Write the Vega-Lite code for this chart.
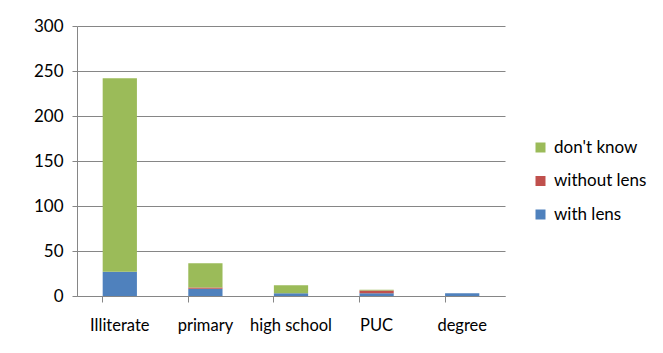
{
  "$schema": "https://vega.github.io/schema/vega-lite/v6.json",
  "autosize": {"type": "none"},
  "width": 428,
  "height": 270,
  "padding": {"left": 77, "top": 26, "right": 158, "bottom": 57},
  "background": "white",
  "data": {
    "values": [
      {"level": "Illiterate", "type": "with lens", "count": 27},
      {"level": "Illiterate", "type": "without lens", "count": 0},
      {"level": "Illiterate", "type": "don't know", "count": 215},
      {"level": "primary", "type": "with lens", "count": 8},
      {"level": "primary", "type": "without lens", "count": 1.5},
      {"level": "primary", "type": "don't know", "count": 27},
      {"level": "high school", "type": "with lens", "count": 3},
      {"level": "high school", "type": "without lens", "count": 0},
      {"level": "high school", "type": "don't know", "count": 9},
      {"level": "PUC", "type": "with lens", "count": 3},
      {"level": "PUC", "type": "without lens", "count": 3},
      {"level": "PUC", "type": "don't know", "count": 1},
      {"level": "degree", "type": "with lens", "count": 3},
      {"level": "degree", "type": "without lens", "count": 0},
      {"level": "degree", "type": "don't know", "count": 0}
    ]
  },
  "transform": [
    {"calculate": "indexof(['with lens', 'without lens', \"don't know\"], datum.type)", "as": "stackOrder"}
  ],
  "mark": {"type": "bar"},
  "encoding": {
    "x": {
      "field": "level",
      "type": "nominal",
      "sort": ["Illiterate", "primary", "high school", "PUC", "degree"],
      "scale": {"paddingInner": 0.6, "paddingOuter": 0.3},
      "axis": {
        "title": null,
        "labelAngle": 0,
        "bandPosition": 0,
        "tickSize": 6,
        "tickColor": "#868686",
        "domainColor": "#868686",
        "labelFont": "Lato",
        "labelFontSize": 16.5,
        "labelColor": "#000000",
        "labelPadding": 15
      }
    },
    "y": {
      "field": "count",
      "type": "quantitative",
      "stack": "zero",
      "scale": {"domain": [0, 300], "nice": false},
      "axis": {
        "title": null,
        "values": [0, 50, 100, 150, 200, 250, 300],
        "tickSize": 5,
        "tickColor": "#868686",
        "domainColor": "#868686",
        "gridColor": "#868686",
        "labelFont": "Lato",
        "labelFontSize": 17,
        "labelColor": "#000000",
        "labelPadding": 9
      }
    },
    "color": {
      "field": "type",
      "type": "nominal",
      "scale": {
        "domain": ["don't know", "without lens", "with lens"],
        "range": ["#9BBB59", "#C0504D", "#4F81BD"]
      },
      "legend": {
        "title": null,
        "orient": "none",
        "legendX": 455,
        "legendY": 113,
        "symbolType": "square",
        "symbolSize": 100,
        "symbolStrokeWidth": 0,
        "labelFont": "Lato",
        "labelFontSize": 17,
        "labelColor": "#000000",
        "labelOffset": 5,
        "rowPadding": 15.5
      }
    },
    "order": {"field": "stackOrder", "type": "quantitative"}
  },
  "config": {
    "view": {"stroke": null}
  }
}
